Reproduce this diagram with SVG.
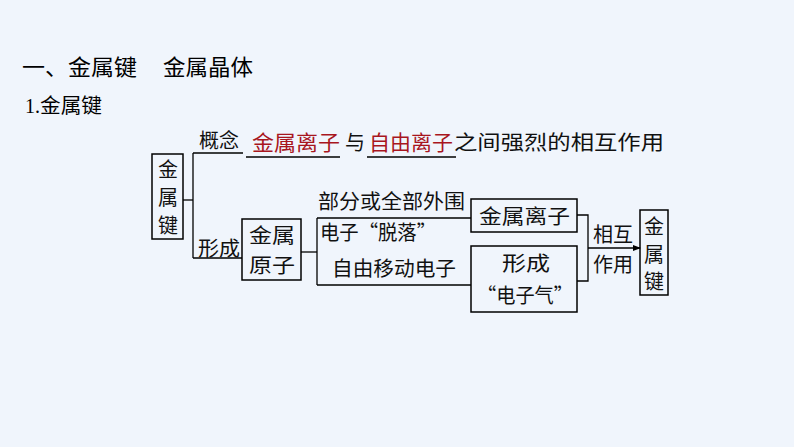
<svg xmlns="http://www.w3.org/2000/svg" width="794" height="447" viewBox="0 0 794 447">
<defs>
<style>
.bg{fill:#F0F5FC}
.box{fill:none;stroke:#000;stroke-width:1.5}
.ln{fill:none;stroke:#000;stroke-width:1.3}
.t{font-family:"Noto Sans CJK SC","Noto Sans",sans-serif;font-size:20px;fill:#111}
.h{font-family:"Noto Sans CJK SC","Noto Sans",sans-serif;fill:#000}
.r{font-family:"Noto Sans CJK SC","Noto Sans",sans-serif;font-size:21px;fill:#A8161E}
.s{font-family:"Liberation Serif",serif;font-size:20px;fill:#000}
</style>
<marker id="arr" markerWidth="8" markerHeight="6" refX="7" refY="3" orient="auto" markerUnits="userSpaceOnUse">
<path d="M0,0 L8,3 L0,6 Z" fill="#000"/>
</marker>
</defs>
<rect class="bg" x="0" y="0" width="794" height="447"/>

<g id="title">
<text class="h" x="22" y="75" font-size="22" textLength="115" lengthAdjust="spacingAndGlyphs">一、金属键</text>
<text class="h" x="163" y="75" font-size="22" textLength="90" lengthAdjust="spacingAndGlyphs">金属晶体</text>
<text class="s" x="25" y="113">1.</text>
<text class="h" x="40" y="113" font-size="20" textLength="62" lengthAdjust="spacingAndGlyphs">金属键</text>
</g>

<g id="connectors">
<path class="ln" d="M183,200 H193"/>
<path class="ln" d="M193,153 V258"/>
<path class="ln" d="M193,153 H243"/>
<path class="ln" d="M193,258 H242"/>
<path class="ln" d="M301,252 H317"/>
<path class="ln" d="M317,218 V285"/>
<path class="ln" d="M317,218 H471"/>
<path class="ln" d="M317,285 H471"/>
<path class="ln" d="M577,215 H588 V281 H577"/>
<path class="ln" d="M588,248 H640" marker-end="url(#arr)"/>
<path class="ln" d="M246,157 H340"/>
<path class="ln" d="M367,157 H456"/>
</g>

<g id="node-jinshujian">
<rect class="box" x="152" y="154" width="31" height="85"/>
<text class="t" x="158" y="177" font-size="19">金</text>
<text class="t" x="158" y="205" font-size="19">属</text>
<text class="t" x="158" y="233" font-size="19">键</text>
</g>

<g id="node-concept">
<text class="t" x="199" y="148" textLength="40" lengthAdjust="spacingAndGlyphs">概念</text>
<text class="r" x="252" y="150" textLength="88" lengthAdjust="spacingAndGlyphs">金属离子</text>
<text class="t" x="345" y="150">与</text>
<text class="r" x="369" y="150" textLength="84" lengthAdjust="spacingAndGlyphs">自由离子</text>
<text class="t" x="454" y="150" font-size="21" textLength="210" lengthAdjust="spacingAndGlyphs">之间强烈的相互作用</text>
</g>

<g id="node-xingcheng">
<text class="t" x="198" y="256" textLength="42" lengthAdjust="spacingAndGlyphs">形成</text>
</g>

<g id="node-yuanzi">
<rect class="box" x="242" y="219" width="59" height="61"/>
<text class="t" x="249" y="243" font-size="21" textLength="46" lengthAdjust="spacingAndGlyphs">金属</text>
<text class="t" x="249" y="273" font-size="21" textLength="46" lengthAdjust="spacingAndGlyphs">原子</text>
</g>

<g id="node-tuoluo">
<text class="t" x="318" y="209" textLength="147" lengthAdjust="spacingAndGlyphs">部分或全部外围</text>
<text class="t" x="320" y="240" textLength="116" lengthAdjust="spacingAndGlyphs">电子“脱落”</text>
<text class="t" x="332" y="276" textLength="124" lengthAdjust="spacingAndGlyphs">自由移动电子</text>
</g>

<g id="node-lizi">
<rect class="box" x="471" y="199" width="106" height="33"/>
<text class="t" x="479" y="224" font-size="21" textLength="91" lengthAdjust="spacingAndGlyphs">金属离子</text>
</g>

<g id="node-dianziqi">
<rect class="box" x="471" y="246" width="106" height="66"/>
<text class="t" x="502" y="271" font-size="21" textLength="48" lengthAdjust="spacingAndGlyphs">形成</text>
<text class="t" x="477" y="303" font-size="21" textLength="96" lengthAdjust="spacingAndGlyphs">“电子气”</text>
</g>

<g id="node-xianghu">
<text class="t" x="593" y="242" textLength="40" lengthAdjust="spacingAndGlyphs">相互</text>
<text class="t" x="593" y="272" textLength="40" lengthAdjust="spacingAndGlyphs">作用</text>
</g>

<g id="node-jinshujian2">
<rect class="box" x="640" y="210" width="28" height="85"/>
<text class="t" x="644" y="234">金</text>
<text class="t" x="644" y="262">属</text>
<text class="t" x="644" y="289">键</text>
</g>
</svg>
